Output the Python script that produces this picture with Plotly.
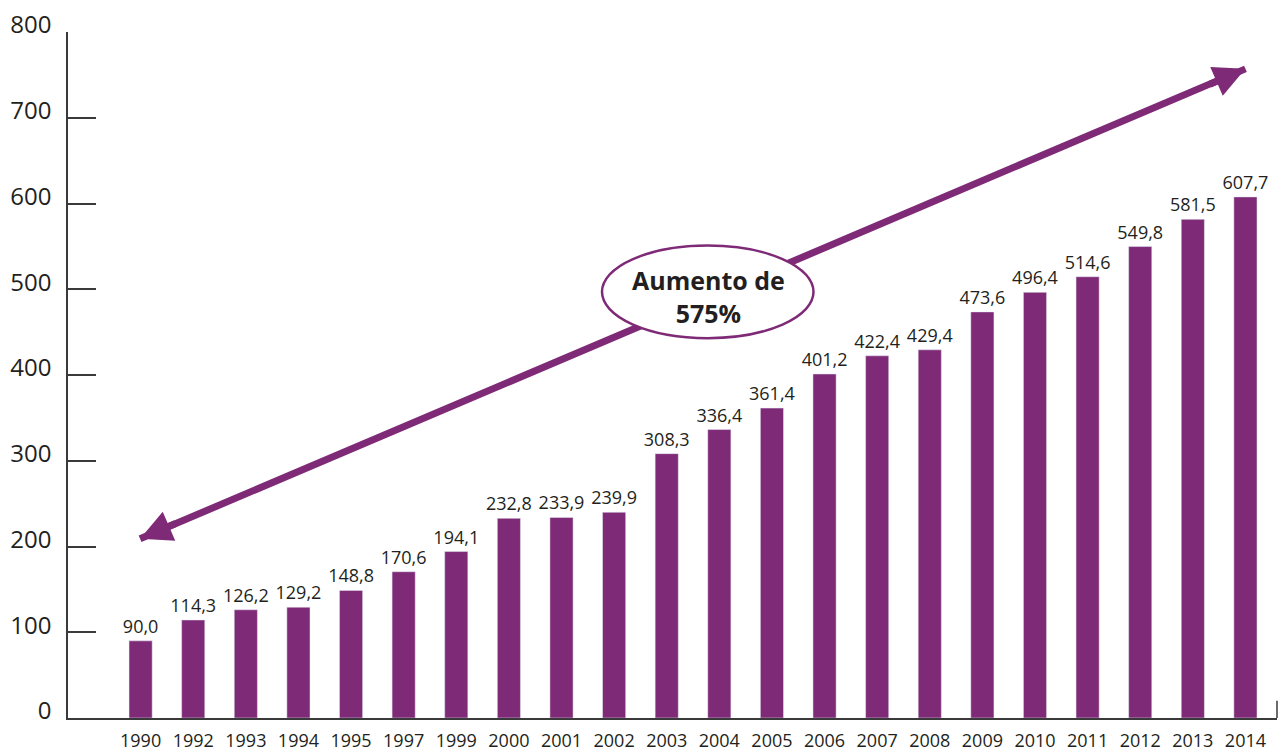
import plotly.graph_objects as go

# ── Data ──────────────────────────────────────────────────────────────────────
years = ["1990", "1992", "1993", "1994", "1995", "1997", "1999", "2000", "2001",
         "2002", "2003", "2004", "2005", "2006", "2007", "2008", "2009", "2010",
         "2011", "2012", "2013", "2014"]
values = [90.0, 114.3, 126.2, 129.2, 148.8, 170.6, 194.1, 232.8, 233.9,
          239.9, 308.3, 336.4, 361.4, 401.2, 422.4, 429.4, 473.6, 496.4,
          514.6, 549.8, 581.5, 607.7]
y_ticks = [0, 100, 200, 300, 400, 500, 600, 700, 800]
callout_text = "<b>Aumento de<br>575%</b>"

PURPLE = "#7F2A77"
INK = "#231F20"
AXIS = "#3a3a3a"

idx = list(range(len(years)))

fig = go.Figure(
    go.Bar(
        x=idx,
        y=values,
        width=0.44,
        marker_color=PURPLE,
        texttemplate="%{y:.1f}",
        textposition="outside",
        constraintext="none",
        textfont=dict(size=18, color=INK, family="Open Sans"),
        cliponaxis=False,
        hoverinfo="skip",
    )
)

# ── Trend arrow (line + two heads) ────────────────────────────────────────────
start = (-0.01, 209)
end = (21.0, 757)
fig.add_shape(type="line", x0=start[0], y0=start[1], x1=end[0], y1=end[1],
              xref="x", yref="y", line=dict(color=PURPLE, width=7), layer="above")
for (hx, hy), (ax, ay) in [(end, (-37, 16)), (start, (37, -16))]:
    fig.add_annotation(x=hx, y=hy, xref="x", yref="y", ax=ax, ay=ay,
                       showarrow=True, text="", arrowhead=2, arrowsize=0.9,
                       arrowwidth=7, arrowcolor=PURPLE, standoff=0)

# ── Callout ellipse ───────────────────────────────────────────────────────────
fig.add_shape(type="circle", xref="x", yref="y",
              x0=8.77, x1=12.79, y0=443, y1=551,
              fillcolor="white", line=dict(color=PURPLE, width=2.5), layer="above")
fig.add_annotation(x=10.79, y=491, xref="x", yref="y", text=callout_text,
                   showarrow=False, font=dict(size=25, color=INK, family="Open Sans"))

# small end tick on the x axis
fig.add_shape(type="line", xref="paper", yref="paper", x0=1, x1=1, y0=0, y1=0.025,
              line=dict(color=AXIS, width=1.5))

fig.update_layout(
    width=1279,
    height=753,
    margin=dict(l=68, r=2, t=32, b=35),
    plot_bgcolor="white",
    paper_bgcolor="white",
    separators=", ",
    showlegend=False,
    font=dict(family="Open Sans", color=INK),
    xaxis=dict(
        range=[-1.38, 21.6],
        tickvals=idx,
        ticktext=years,
        showgrid=False,
        zeroline=False,
        showline=True,
        linecolor=AXIS,
        linewidth=1.5,
        ticks="",
        tickfont=dict(size=18, color=INK),
        ticklabelstandoff=6,
        automargin=False,
    ),
    yaxis=dict(
        range=[0, 800],
        tickvals=y_ticks,
        showgrid=False,
        zeroline=False,
        showline=True,
        linecolor=AXIS,
        linewidth=1.5,
        ticks="inside",
        ticklen=28,
        tickwidth=1.5,
        tickcolor=AXIS,
        tickfont=dict(size=24, color=INK),
        ticklabelstandoff=10,
        ticklabelshift=-7,
        automargin=False,
    ),
)

fig.write_html("out.html", config={"displayModeBar": False},
               post_script="document.body.style.margin='0';")
